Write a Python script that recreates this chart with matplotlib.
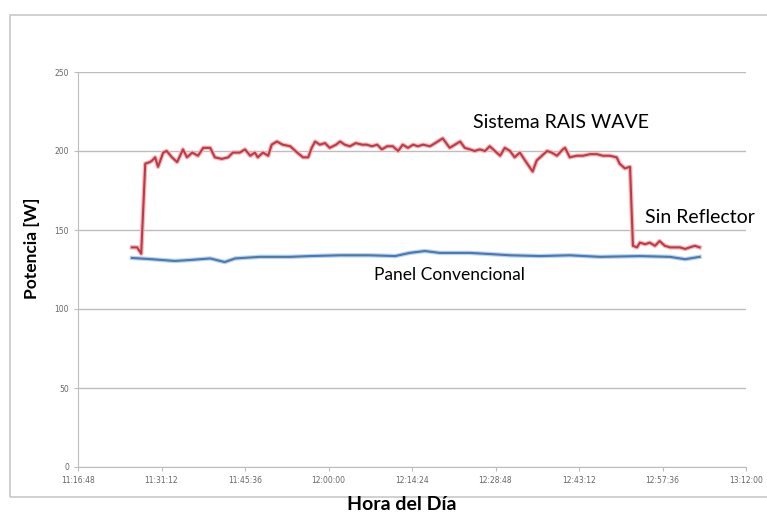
import matplotlib.pyplot as plt
from matplotlib.ticker import FuncFormatter, MultipleLocator
from matplotlib.patches import Rectangle

# minutes after 11:16:48
t_red = [9.3, 10.2, 10.9, 11.6, 12.4, 12.8, 13.3, 13.8, 14.7, 15.3, 16.2, 17.1, 18.1, 18.8,
         19.7, 20.7, 21.6, 22.8, 23.6, 24.8, 25.9, 26.7, 27.9, 28.8, 29.7, 30.5, 31.0, 31.9,
         32.8, 33.4, 34.3, 35.3, 36.6, 37.8, 38.8, 39.7, 40.3, 40.9, 41.7, 42.6, 43.4, 44.5,
         45.2, 46.0, 46.9, 47.9, 49.0, 49.8, 50.7, 51.6, 52.4, 53.3, 54.3, 55.2, 56.0, 56.9,
         57.8, 58.6, 59.5, 60.7, 61.6, 62.9, 64.1, 65.0, 65.9, 66.7, 67.6, 68.4, 69.3, 70.2,
         71.0, 71.9, 72.8, 73.6, 74.5, 75.3, 76.2, 77.1, 78.4, 79.1, 80.0, 80.9, 81.7, 82.6,
         83.6, 84.0, 84.8, 86.0, 87.1, 88.3, 89.5, 90.5, 91.7, 92.9, 93.4, 94.3, 95.2, 95.7,
         96.4, 96.9, 97.8, 98.6, 99.5, 100.3, 101.2, 102.1, 102.9, 103.8, 104.7, 105.5, 106.4,
         107.2]
p_red = [139, 139, 135, 192, 193, 194, 196, 190, 199, 200, 196, 193, 201, 196,
         199, 197, 202, 202, 196, 195, 196, 199, 199, 201, 197, 199, 196, 199,
         197, 204, 206, 204, 203, 199, 196, 196, 202, 206, 204, 205, 202, 204,
         206, 204, 203, 205, 204, 204, 203, 204, 201, 203, 203, 200, 204, 202,
         204, 203, 204, 203, 205, 208, 202, 204, 206, 202, 201, 200, 201, 200,
         203, 200, 197, 202, 200, 196, 199, 194, 187, 194, 197, 200, 199, 197,
         201, 202, 196, 197, 197, 198, 198, 197, 197, 196, 192, 189, 190, 140,
         139, 142, 141, 142, 140, 143, 140, 139, 139, 139, 138, 139, 140,
         139]

t_blue = [9.3, 12.4, 16.7, 19.3, 22.8, 25.3, 27.1, 31.4, 36.6, 40.0, 45.2, 50.3, 54.7,
          57.2, 59.8, 62.4, 67.6, 71.0, 74.5, 79.7, 84.8, 90.0, 96.9, 102.1, 104.7, 107.2]
p_blue = [132.3, 131.6, 130.4, 131, 132, 129.7, 132, 133, 133, 133.5, 134, 134, 133.5,
          135.5, 136.7, 135.5, 135.5, 134.8, 134, 133.5, 134, 133, 133.5, 133, 131.5, 133]

start_sec = 11 * 3600 + 16 * 60 + 48
tick_step = 14.4  # minutes

def fmt_time(m, pos):
    s = int(round(start_sec + m * 60))
    return '%d:%02d:%02d' % (s // 3600, (s % 3600) // 60, s % 60)

fig = plt.figure(figsize=(7.67, 5.24), dpi=100)
fig.patches.append(Rectangle((10 / 767, 1 - 497 / 524), 760 / 767, 482 / 524,
                             transform=fig.transFigure, fill=False,
                             edgecolor='#c8c8c8', linewidth=1.2))
ax = fig.add_axes([78 / 767, 1 - 467 / 524, 668 / 767, 395 / 524])

ax.plot(t_red, p_red, color='#f2b8b6', linewidth=3.2, solid_joinstyle='round')
ax.plot(t_red, p_red, color='#c0394a', linewidth=1.5, solid_joinstyle='round')
ax.plot(t_blue, p_blue, color='#b9d3ee', linewidth=3.2, solid_joinstyle='round')
ax.plot(t_blue, p_blue, color='#4a78b0', linewidth=1.5, solid_joinstyle='round')

ax.set_xlim(0, 8 * tick_step)
ax.set_ylim(0, 250)
ax.xaxis.set_major_locator(MultipleLocator(tick_step))
ax.xaxis.set_major_formatter(FuncFormatter(fmt_time))
ax.yaxis.set_major_locator(MultipleLocator(50))
ax.grid(axis='y', color='#bdbdbd', linewidth=1)
ax.set_axisbelow(True)
for s in ['top', 'right']:
    ax.spines[s].set_visible(False)
for s in ['left', 'bottom']:
    ax.spines[s].set_color('#bdbdbd')
ax.tick_params(axis='both', labelsize=5.5, colors='#bdbdbd', labelcolor='#666666',
               length=3)

fig.text(32 / 767, 1 - 248 / 524, 'Potencia [W]', fontsize=12.5, fontweight='bold',
         family='Lato', rotation=90, ha='center', va='center')
fig.text(402 / 767, 1 - 505 / 524, 'Hora del Día', fontsize=14, fontweight='bold',
         family='Lato', ha='center', va='center')

ax.text(68.1, 218, 'Sistema RAIS WAVE', fontsize=14, family='Lato', va='center')
ax.text(51.0, 121.5, 'Panel Convencional', fontsize=12.5, family='Lato', va='center')
ax.text(97.8, 157.6, 'Sin Reflector', fontsize=14, family='Lato', va='center',
        clip_on=False)

fig.savefig('out.png', dpi=100)
